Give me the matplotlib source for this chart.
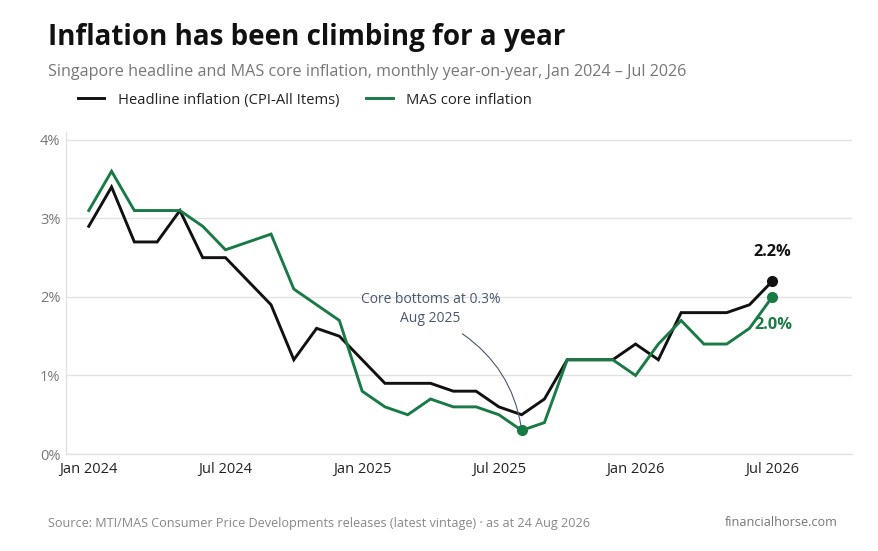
import matplotlib
matplotlib.use("Agg")
import matplotlib.pyplot as plt

plt.rcParams['font.family'] = ['Open Sans', 'DejaVu Sans']

months = ["Jan 2024", "Feb 2024", "Mar 2024", "Apr 2024", "May 2024", "Jun 2024",
          "Jul 2024", "Aug 2024", "Sep 2024", "Oct 2024", "Nov 2024", "Dec 2024",
          "Jan 2025", "Feb 2025", "Mar 2025", "Apr 2025", "May 2025", "Jun 2025",
          "Jul 2025", "Aug 2025", "Sep 2025", "Oct 2025", "Nov 2025", "Dec 2025",
          "Jan 2026", "Feb 2026", "Mar 2026", "Apr 2026", "May 2026", "Jun 2026",
          "Jul 2026"]
headline = [2.9, 3.4, 2.7, 2.7, 3.1, 2.5, 2.5, 2.2, 1.9, 1.2, 1.6, 1.5,
            1.2, 0.9, 0.9, 0.9, 0.8, 0.8, 0.6, 0.5, 0.7, 1.2, 1.2, 1.2,
            1.4, 1.2, 1.8, 1.8, 1.8, 1.9, 2.2]
core = [3.1, 3.6, 3.1, 3.1, 3.1, 2.9, 2.6, 2.7, 2.8, 2.1, 1.9, 1.7,
        0.8, 0.6, 0.5, 0.7, 0.6, 0.6, 0.5, 0.3, 0.4, 1.2, 1.2, 1.2,
        1.0, 1.4, 1.7, 1.4, 1.4, 1.6, 2.0]
tick_labels = ["Jan 2024", "Jul 2024", "Jan 2025", "Jul 2025", "Jan 2026", "Jul 2026"]
y_ticks = [0, 1, 2, 3, 4]

BLACK = "#111111"
GREEN = "#1a7a45"
GRID = "#e2e2e2"
NOTE = "#4a5670"

fig = plt.figure(figsize=(8.79, 5.51), dpi=100)
ax = fig.add_axes([66/879, 1-454/551, (852-66)/879, (454-132)/551])

x = list(range(len(months)))
ax.plot(x, headline, color=BLACK, lw=2.1, solid_joinstyle='miter', label="Headline inflation (CPI-All Items)", zorder=3)
ax.plot(x, core, color=GREEN, lw=2.1, solid_joinstyle='miter', label="MAS core inflation", zorder=3)

ax.plot([x[-1]], [headline[-1]], 'o', color=BLACK, ms=7, zorder=4)
ax.plot([x[-1]], [core[-1]], 'o', color=GREEN, ms=7, zorder=4)
imin = core.index(min(core))
ax.plot([x[imin]], [core[imin]], 'o', color=GREEN, ms=7, zorder=4)

ax.set_xlim(-1, 33.5)
ax.set_ylim(0, 4.1)
ax.set_yticks(y_ticks)
ax.set_yticklabels([f"{v}%" for v in y_ticks])
ax.set_xticks([months.index(t) for t in tick_labels])
ax.set_xticklabels(tick_labels)
ax.grid(axis='y', color=GRID, lw=1)
ax.set_axisbelow(True)
for s in ['top', 'right']:
    ax.spines[s].set_visible(False)
for s in ['left', 'bottom']:
    ax.spines[s].set_color(GRID)
    ax.spines[s].set_linewidth(1)
ax.tick_params(axis='y', length=0, pad=4, labelsize=10.5, labelcolor="#777777")
ax.tick_params(axis='x', length=0, pad=6, labelsize=10.5, labelcolor="#222222")

# end labels
ax.annotate(f"{headline[-1]:.1f}%", (x[-1], headline[-1]), xytext=(0, 21), textcoords='offset points',
            ha='center', va='center', fontsize=11.8, fontweight='bold', color=BLACK)
ax.annotate(f"{core[-1]:.1f}%", (x[-1], core[-1]), xytext=(0.5, -20), textcoords='offset points',
            ha='center', va='center', fontsize=11.8, fontweight='bold', color=GREEN)

# bottom annotation
note_x, note_y = 15.0, 1.85
ax.text(note_x, note_y, f"Core bottoms at {core[imin]:.1f}%\n{months[imin]}",
        ha='center', va='center', fontsize=10, color=NOTE, linespacing=1.35)
ax.annotate("", xy=(x[imin], core[imin]), xytext=(note_x + 1.4, note_y - 0.32),
            arrowprops=dict(arrowstyle='-', color=NOTE, lw=0.8,
                            connectionstyle="arc3,rad=-0.22", shrinkA=0, shrinkB=3))

fig.text(48/879, 1-38/551, "Inflation has been climbing for a year", fontsize=20,
         fontweight='bold', color="#111111", ha='left', va='center')
fig.text(48/879, 1-72/551, "Singapore headline and MAS core inflation, monthly year-on-year, Jan 2024 \u2013 Jul 2026",
         fontsize=11.6, color="#777777", ha='left', va='center')

fig.legend(loc='center left', bbox_to_anchor=(78/879, 1-100/551), ncol=2, frameon=False,
           fontsize=10.6, handlelength=1.8, handletextpad=0.9, columnspacing=1.85,
           labelcolor="#222222", borderaxespad=0, borderpad=0)

fig.text(48/879, 1-523/551, "Source: MTI/MAS Consumer Price Developments releases (latest vintage) \u00b7 as at 24 Aug 2026",
         fontsize=9.1, color="#888888", ha='left', va='center')
fig.text(838/879, 1-523/551, "financialhorse.com", fontsize=9.1, color="#777777", ha='right', va='center')

fig.savefig("out.png", dpi=100)
